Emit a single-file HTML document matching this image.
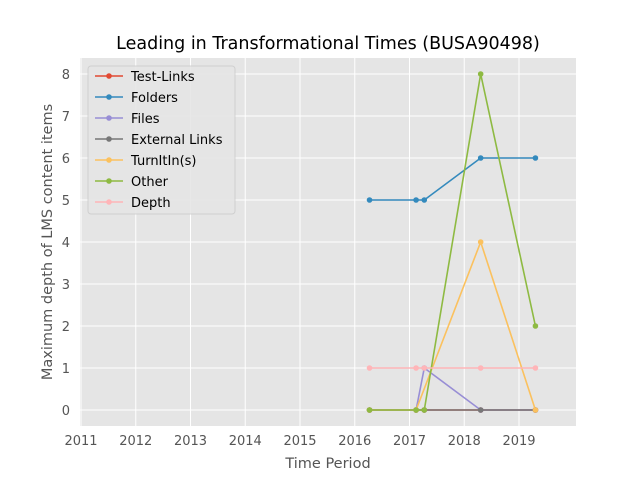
<!DOCTYPE html>
<html><head><meta charset="utf-8"><style>body{margin:0;background:#fff}svg{display:block;font-family:"DejaVu Sans","Liberation Sans",sans-serif}</style></head>
<body>
<svg id="c" width="640" height="480">
<rect x="0" y="0" width="640" height="480" fill="#fff"/>
<rect x="80" y="58" width="496" height="368" fill="#E5E5E5"/>
<g id="grid"></g><g id="ticks"></g><g id="series"></g>
<text x="328" y="49" text-anchor="middle" font-size="17.5" fill="#000">Leading in Transformational Times (BUSA90498)</text>
<text x="328" y="468" text-anchor="middle" font-size="14.5" fill="#555">Time Period</text>
<text transform="translate(52,242) rotate(-90)" text-anchor="middle" font-size="14.5" fill="#555">Maximum depth of LMS content items</text>
<g id="legend"></g>
</svg>
<script>
const xs = [2016.27, 2017.12, 2017.27, 2018.3, 2019.3];
const seriesNames = ["Test-Links","Folders","Files","External Links","TurnItIn(s)","Other","Depth"];
const testLinks = [0,0,0,0,0];
const folders = [5,5,5,6,6];
const files = [0,0,1,0,0];
const externalLinks = [0,0,0,0,0];
const turnitin = [0,0,null,4,0];
const other = [0,0,0,8,2];
const depth = [1,1,1,1,1];
const xTicks = [2011,2012,2013,2014,2015,2016,2017,2018,2019];
const yTicks = [0,1,2,3,4,5,6,7,8];
const colors = ["#E24A33","#348ABD","#988ED5","#777777","#FBC15E","#8EBA42","#FFB5B8"];
const data = [testLinks,folders,files,externalLinks,turnitin,other,depth];
const NS="http://www.w3.org/2000/svg";
const X=v=>81+(v-2011)*54.75, Y=v=>410-v*42;
function mk(t,a,p){const e=document.createElementNS(NS,t);for(const k in a)e.setAttribute(k,a[k]);p.appendChild(e);return e;}
const g=document.getElementById('grid'),tk=document.getElementById('ticks');
xTicks.forEach(t=>{const l=mk('line',{x1:X(t),x2:X(t),y1:58,y2:426,stroke:'#fff','stroke-width':1},g);

const tx=mk('text',{x:X(t),y:445,'text-anchor':'middle','font-size':13,fill:'#555'},tk);tx.textContent=t;
});
yTicks.forEach(t=>{const l=mk('line',{x1:80,x2:576,y1:Y(t),y2:Y(t),stroke:'#fff','stroke-width':1},g);

const tx=mk('text',{x:70,y:Y(t)+5,'text-anchor':'end','font-size':13,fill:'#555'},tk);tx.textContent=t;
});
const sg=document.getElementById('series');
data.forEach((d,i)=>{const pts=[];d.forEach((v,j)=>{if(v!==null)pts.push([X(xs[j]),Y(v)]);});
const pl=mk('polyline',{points:pts.map(p=>p.join(',')).join(' '),fill:'none',stroke:colors[i],'stroke-width':1.6},sg);

pts.forEach(p=>{const c=mk('circle',{cx:p[0],cy:p[1],r:2.8,fill:colors[i]},sg);
});});
const lg=document.getElementById('legend');
const box=mk('rect',{x:88,y:66,width:147,height:148,rx:3,fill:'#E5E5E5',stroke:'#ccc','stroke-width':1,opacity:0.85},lg);

seriesNames.forEach((n,i)=>{const y=76+i*21;
const l=mk('line',{x1:95,x2:123,y1:y,y2:y,stroke:colors[i],'stroke-width':1.6},lg);

const c=mk('circle',{cx:109,cy:y,r:2.8,fill:colors[i]},lg);

const t=mk('text',{x:131,y:y+5,'font-size':13,fill:'#000'},lg);t.textContent=n;
});
</script>
</body></html>
